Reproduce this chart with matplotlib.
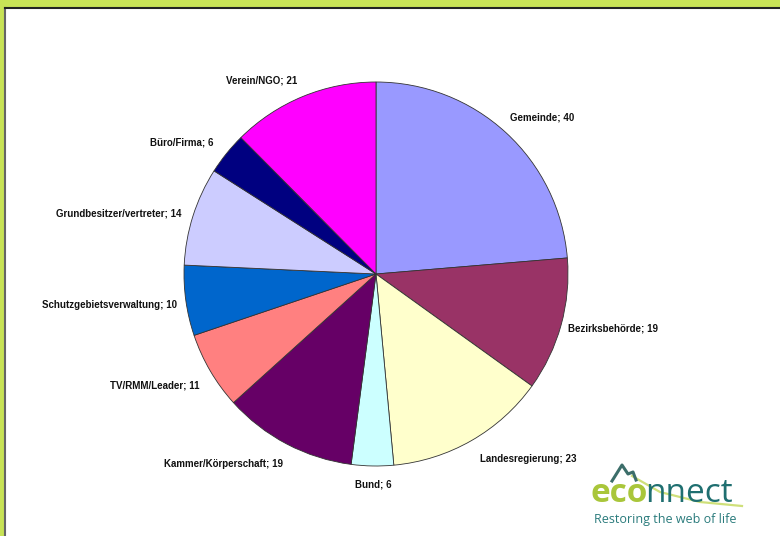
import matplotlib
matplotlib.use("Agg")
import matplotlib.pyplot as plt

# Daten (im Uhrzeigersinn ab 12 Uhr)
labels = ["Gemeinde", "Bezirksbehörde", "Landesregierung", "Bund",
          "Kammer/Körperschaft", "TV/RMM/Leader", "Schutzgebietsverwaltung",
          "Grundbesitzer/vertreter", "Büro/Firma", "Verein/NGO"]
values = [40, 19, 23, 6, 19, 11, 10, 14, 6, 21]
colors = ["#9999FF", "#993366", "#FFFFCC", "#CCFFFF", "#660066",
          "#FF8080", "#0066CC", "#CCCCFF", "#000080", "#FF00FF"]

W, H = 780, 536
fig = plt.figure(figsize=(W / 100, H / 100), dpi=100)
fig.patch.set_facecolor("#c8e356")

# weisser Rahmen mit dunkler Kante oben/links
bg = fig.add_axes([5 / W, 0, 1 - 5 / W, 1 - 8 / H], zorder=-5)
bg.set_facecolor("white")
bg.set_xticks([])
bg.set_yticks([])
for s in ["right", "bottom"]:
    bg.spines[s].set_visible(False)
bg.spines["top"].set_color("#222222")
bg.spines["top"].set_linewidth(1.5)
bg.spines["left"].set_color("#666666")
bg.spines["left"].set_linewidth(1.5)

cx, cy, r = 376, 274, 192
ax = fig.add_axes([(cx - r) / W, (H - cy - r) / H, 2 * r / W, 2 * r / H])
texts = [f"{l}; {v}" for l, v in zip(labels, values)]
wedges, lbls = ax.pie(values, labels=texts, colors=colors, startangle=90,
                      counterclock=False, labeldistance=1.08,
                      wedgeprops=dict(edgecolor="#333333", linewidth=0.6),
                      textprops=dict(fontsize=7, fontweight="bold",
                                     family="Liberation Sans", color="#111111"))
lbls[3].set_ha("center")

# kleine Verschiebungen der Beschriftungen (Pixel, y nach unten)
nudge = [(-6, -4), (-8, -1), (1, 5), (1, 3), (3, 6),
         (2, 7), (6, 2), (3, 2), (-1, -1), (0, -2)]
for t, (dx, dy) in zip(lbls, nudge):
    x, y = t.get_position()
    t.set_position((x + dx / r, y - dy / r))

ax.set_xlim(-1, 1)
ax.set_ylim(-1, 1)

# Logo
fig.add_artist(plt.Line2D([x / W for x in [632, 660, 700, 742]],
                          [1 - y / H for y in [476, 492, 502, 506]],
                          transform=fig.transFigure, color="#cfe07a", lw=1.6))
fig.add_artist(plt.Line2D([x / W for x in [612, 622, 628, 633, 636]],
                          [1 - y / H for y in [481, 465, 474, 472, 480]],
                          transform=fig.transFigure, color="#3c6e6a", lw=2.2))
fig.text(591 / W, 1 - 494 / H, "eco", fontsize=24, color="#a9c63a",
         family="Open Sans", fontweight="bold", va="center", ha="left")
fig.text(645 / W, 1 - 494 / H, "nnect", fontsize=24, color="#1f6f70",
         family="Open Sans", va="center", ha="left")
fig.text(594 / W, 1 - 520 / H, "Restoring the web of life", fontsize=9,
         color="#2a7b7c", family="Open Sans", va="center", ha="left")

fig.savefig("out.png", dpi=100)
